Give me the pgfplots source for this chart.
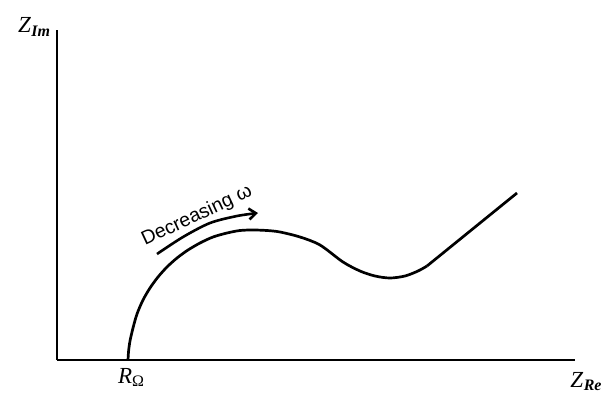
\documentclass[border=0pt]{standalone}
\usepackage{pgfplots}
\pgfplotsset{compat=1.18}
\usepackage{fontspec}
\setmainfont{Liberation Serif}
\newfontfamily\sansf{Liberation Sans}
\usetikzlibrary{arrows.meta}
\begin{document}
\begin{tikzpicture}
\begin{axis}[
  x=1pt, y=1pt,
  xmin=57, xmax=575, ymin=53, ymax=383,
  axis lines=left,
  axis line style={-, line width=2pt},
  ticks=none,
  clip=false,
]
% curve (pixel coordinates, y = 413 - y_px)
\addplot[smooth, tension=0.5, line width=2.7pt, black] coordinates {
(128,53) (128.6,62) (130,72) (133,85) (137,99) (143,113) (150,125) (158,136)
(167,146) (177,155) (188,163) (200,170) (213,176) (227,180) (240,182.5)
(253,183) (267,182.5) (280,181) (300,176) (320,168) (343,151)
(360,142) (375,137) (390,135) (405,137) (418,142) (427,147)
};
\addplot[line width=2.7pt, black] coordinates {(427,147) (517,220)};
% arrow
\addplot[smooth, line width=2.6pt, black, -{Straight Barb[length=7pt,width=11pt]}] coordinates {
(157,159) (183,176) (210,190) (237,197) (258,200)
};
\node[rotate=25, anchor=base west, font=\sansf\fontsize{19.5}{22}\selectfont, inner sep=0pt] at (axis cs:145,167) {Decreasing ω};
\node[anchor=base, inner sep=0pt] at (axis cs:34,380) {\fontsize{23}{25}\selectfont\itshape Z\kern0.5pt\raisebox{-0.35ex}{\fontsize{16}{18}\selectfont\itshape\bfseries Im}};
\node[anchor=base, inner sep=0pt] at (axis cs:586,26) {\fontsize{23}{25}\selectfont\itshape Z\kern0.5pt\raisebox{-0.35ex}{\fontsize{16}{18}\selectfont\itshape\bfseries Re}};
\node[anchor=base, inner sep=0pt] at (axis cs:131,30) {\fontsize{23}{25}\selectfont\itshape R\raisebox{-0.35ex}{\fontsize{16}{18}\selectfont\upshape Ω}};
\path (axis cs:0,0) rectangle (axis cs:604,413);
\end{axis}
\end{tikzpicture}
\end{document}
